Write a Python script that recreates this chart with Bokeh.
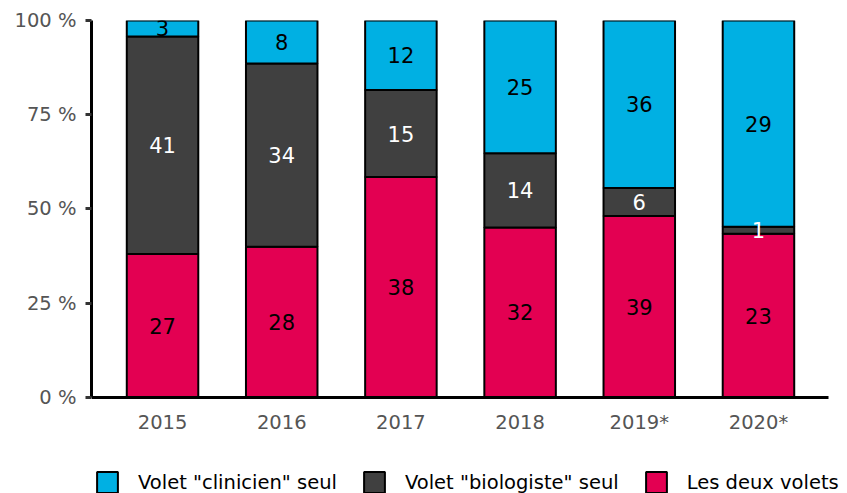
import numpy as np
from bokeh.plotting import figure
from bokeh.models import (ColumnDataSource, Range1d, FixedTicker,
                          PrintfTickFormatter, Legend, LegendItem)
from bokeh.core.properties import value
from bokeh.embed import file_html
from bokeh.resources import INLINE

years = ["2015", "2016", "2017", "2018", "2019*", "2020*"]
deux = [27, 28, 38, 32, 39, 23]
bio = [41, 34, 15, 14, 6, 1]
clin = [3, 8, 12, 25, 36, 29]
series_names = ['Les deux volets', 'Volet "biologiste" seul', 'Volet "clinicien" seul']
colors = ["#E30052", "#404040", "#00B0E3"]
label_colors = ["black", "white", "black"]
y_ticks = [0, 25, 50, 75, 100]

xpos = list(range(len(years)))
counts = np.array([deux, bio, clin], dtype=float)
tot = counts.sum(axis=0)
pct = 100 * counts / tot
cols = ["p_deux", "p_bio", "p_clin"]
src = ColumnDataSource(dict(x=xpos, year=years, **{c: pct[i] for i, c in enumerate(cols)}))

lx, ly, lt, lc = [], [], [], []
cum = np.zeros(len(years))
for i in range(3):
    for j in xpos:
        lx.append(j)
        ly.append(cum[j] + pct[i][j] / 2)
        lt.append(str(int(counts[i][j])))
        lc.append(label_colors[i])
    cum = cum + pct[i]
lsrc = ColumnDataSource(dict(x=lx, y=ly, t=lt, c=lc))

FS = "19.5px"

p = figure(x_range=Range1d(-0.596, 5.747), y_range=Range1d(-25.5, 100),
           width=847, height=493, output_backend="svg", toolbar_location=None,
           min_border_left=91, min_border_right=0, min_border_top=20, min_border_bottom=0)

rs = p.vbar_stack(cols, x="x", width=0.6, fill_color=colors, line_color="black",
                  line_width=2, source=src)

p.text(x="x", y="y", text="t", text_color="c", source=lsrc, text_align="center",
       text_baseline="middle", text_font=value("DejaVu Sans"), text_font_size="21px")

p.xgrid.grid_line_color = None
p.ygrid.grid_line_color = None
p.outline_line_color = None

p.yaxis.ticker = FixedTicker(ticks=y_ticks)
p.yaxis.bounds = (0, 100)
p.yaxis.formatter = PrintfTickFormatter(format="%d %%")
p.yaxis.axis_line_width = 3
p.yaxis.axis_line_color = "black"
p.yaxis.major_tick_line_width = 3
p.yaxis.major_tick_line_color = "#333333"
p.yaxis.major_tick_out = 6
p.yaxis.major_tick_in = 0
p.yaxis.minor_tick_line_color = None
p.yaxis.major_label_standoff = 9

p.xaxis.ticker = FixedTicker(ticks=xpos)
p.xaxis.major_label_overrides = {i: y for i, y in zip(xpos, years)}
p.xaxis.bounds = (-0.596, 5.587)
p.xaxis.fixed_location = 0
p.xaxis.axis_line_width = 3
p.xaxis.axis_line_color = "black"
p.xaxis.major_tick_line_color = None
p.xaxis.major_tick_out = 0
p.xaxis.major_tick_in = 0
p.xaxis.minor_tick_line_color = None
p.xaxis.major_label_standoff = 14

for ax in (p.xaxis, p.yaxis):
    ax.major_label_text_color = "#555555"
    ax.major_label_text_font = "DejaVu Sans"
    ax.major_label_text_font_size = FS

order = [2, 1, 0]
legend = Legend(items=[LegendItem(label=series_names[i], renderers=[rs[i]]) for i in order],
                orientation="horizontal", location=(3, -2), padding=0, margin=0,
                border_line_color=None, background_fill_alpha=0,
                glyph_width=26, glyph_height=26, label_standoff=18, spacing=24,
                label_text_font="DejaVu Sans", label_text_font_size=FS,
                label_text_color="black")
p.add_layout(legend)

open("out.html", "w").write(file_html(p, INLINE))
